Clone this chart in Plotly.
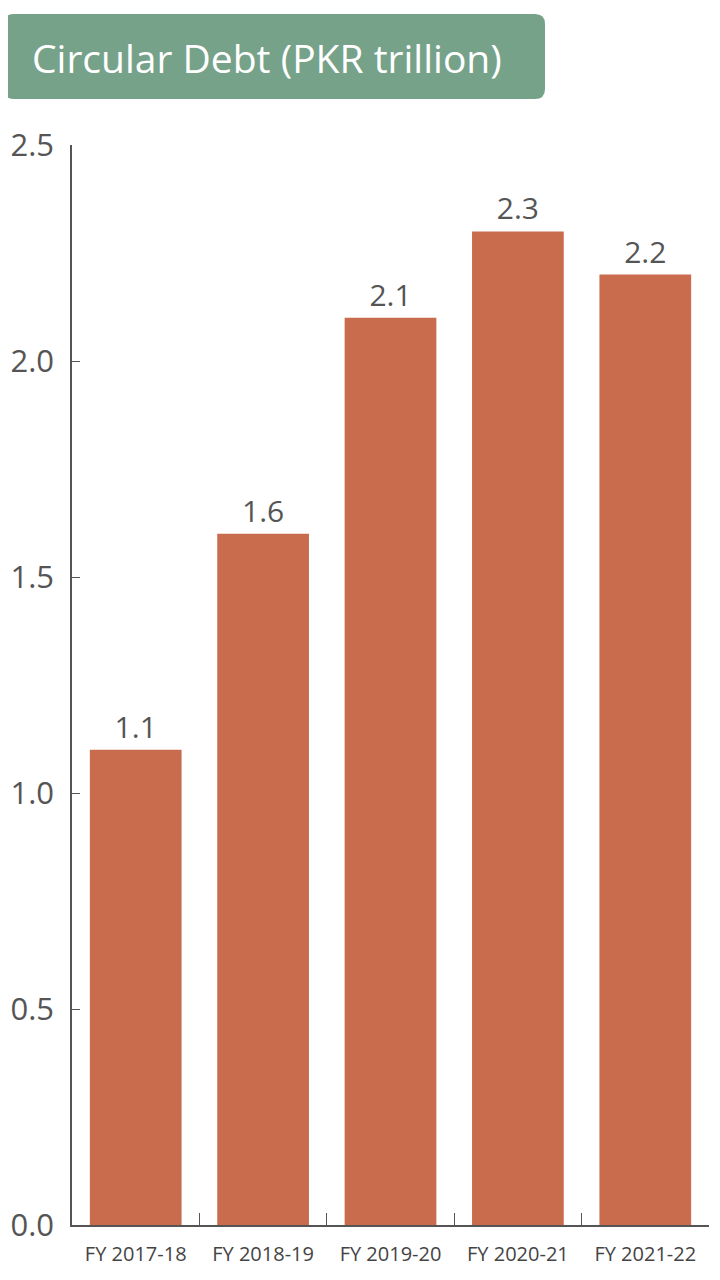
import plotly.graph_objects as go

years = ["FY 2017-18", "FY 2018-19", "FY 2019-20", "FY 2020-21", "FY 2021-22"]
debt = [1.1, 1.6, 2.1, 2.3, 2.2]
y_ticks = [0.0, 0.5, 1.0, 1.5, 2.0, 2.5]
title_text = "Circular Debt (PKR trillion)"

# page body has an 8px margin, so the figure is a bit smaller than the window
OFF = 8
W, H = 720 - OFF, 1280 - OFF
L, R, T, B = 72 - OFF, 11, 145 - OFF, 55
pw, ph = W - L - R, H - T - B


def px_to_paper(x, y):
    # x, y are screen pixels
    return (x - OFF - L) / pw, (H - B - (y - OFF)) / ph


def rounded_rect(x0, y0, x1, y1, r):
    def p(x, y):
        a, b = px_to_paper(x, y)
        return "{:.5f},{:.5f}".format(a, b)
    return "M {} L {} Q {} {} L {} Q {} {} L {} Q {} {} L {} Q {} {} Z".format(
        p(x0 + r, y0), p(x1 - r, y0), p(x1, y0), p(x1, y0 + r),
        p(x1, y1 - r), p(x1, y1), p(x1 - r, y1),
        p(x0 + r, y1), p(x0, y1), p(x0, y1 - r),
        p(x0, y0 + r), p(x0, y0), p(x0 + r, y0),
    )


fig = go.Figure()
fig.add_trace(go.Bar(
    x=years, y=debt,
    marker=dict(color="#c96b4d", line_width=0),
    text=["{:.1f}".format(v) for v in debt],
    textposition="outside",
    textfont=dict(size=30, color="#555555", family="Open Sans"),
    cliponaxis=False,
))

fig.add_shape(
    type="path", xref="paper", yref="paper",
    path=rounded_rect(4, 14, 545, 99, 10),
    fillcolor="#76a28a", line_width=0, layer="above",
)
tx, ty = px_to_paper(30, 57)
fig.add_annotation(
    x=tx, y=ty, xref="paper", yref="paper",
    text=title_text, showarrow=False,
    xanchor="left", yanchor="middle",
    font=dict(size=39, color="white", family="Open Sans"),
)

fig.update_layout(
    width=W, height=H,
    margin=dict(l=L, r=R, t=T, b=B),
    plot_bgcolor="white", paper_bgcolor="white",
    bargap=0.28,
    showlegend=False,
    xaxis=dict(
        type="category", automargin=False,
        showline=True, linecolor="#555555", linewidth=1.5,
        ticks="inside", tickson="boundaries", ticklen=12,
        tickcolor="#555555", tickwidth=1,
        tickfont=dict(size=20, color="#444444", family="Open Sans"),
        ticklabelstandoff=10,
        showgrid=False,
    ),
    yaxis=dict(
        range=[0, 2.5], automargin=False,
        tickvals=y_ticks,
        ticktext=["{:.1f}".format(v) for v in y_ticks],
        showline=True, linecolor="#555555", linewidth=1.5,
        ticks="inside", ticklen=8, tickcolor="#555555",
        tickfont=dict(size=31, color="#555555", family="Open Sans"),
        ticklabelstandoff=10,
        showgrid=False, zeroline=False,
    ),
)

fig.write_html("out.html")
